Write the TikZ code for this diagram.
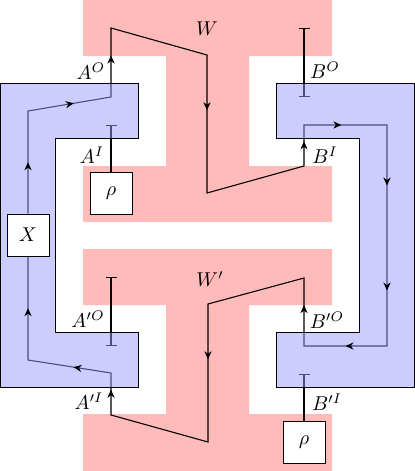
\documentclass[tikz,border=0pt]{standalone}
\usetikzlibrary{arrows.meta,decorations.markings}
\begin{document}
\begin{tikzpicture}[x=0.5pt,y=-0.5pt,
  pinkreg/.style={fill=red!27,draw=none},
  bluereg/.style={fill=blue!40,fill opacity=0.5,draw=black,draw opacity=1,line width=0.5pt},
  wire/.style={line width=0.55pt,black},
  marr/.style={postaction={decorate,decoration={markings,mark=at position #1 with {\arrow{Stealth[length=4pt,width=3.6pt]}}}}},
  boxnode/.style={draw,fill=white,line width=0.5pt,minimum width=21pt,minimum height=21pt,inner sep=0pt},
  teeline/.style={wire,{Bar[width=5.5pt]}-{Bar[width=5.5pt]}},
  teeend/.style={wire,-{Bar[width=5.5pt]}},
  lab/.style={inner sep=0pt}]
\useasboundingbox (0,0) rectangle (415,471);
% pink regions
\fill[pinkreg] (83,0) -- (332,0) -- (332,56) -- (249,56) -- (249,166) -- (332,166) -- (332,222) -- (83,222) -- (83,166) -- (166,166) -- (166,56) -- (83,56) -- cycle;
\fill[pinkreg] (83,249) -- (332,249) -- (332,305) -- (249,305) -- (249,414) -- (332,414) -- (332,471) -- (83,471) -- (83,414) -- (166,414) -- (166,305) -- (83,305) -- cycle;
% coordinates of the wire
\coordinate (c1) at (28,111);
\coordinate (c2) at (111,97);
\coordinate (c3) at (111,28);
\coordinate (c4) at (207,55);
\coordinate (c5) at (207,193);
\coordinate (c6) at (304,166);
\coordinate (c7) at (304,125);
\coordinate (c8) at (387,125);
\coordinate (c8b) at (387,235);
\coordinate (c9) at (387,346);
\coordinate (c10) at (304,346);
\coordinate (c11) at (304,278);
\coordinate (c12) at (208,304);
\coordinate (c13) at (208,442);
\coordinate (c14) at (111,415);
\coordinate (c15) at (111,373);
\coordinate (c16) at (28,360);
% boxes (positions)
\node[boxnode] (X) at (28,235) {$X$};
\node[boxnode] (rhoA) at (111,193.5) {$\rho$};
\node[boxnode] (rhoB) at (304,442.5) {$\rho$};
% wires (lines)
\draw[wire] (X.north) -- (c1) -- (c2) -- (c3) -- (c4) -- (c5) -- (c6) -- (c7) -- (c8) -- (c8b) -- (c9) -- (c10) -- (c11) -- (c12) -- (c13) -- (c14) -- (c15) -- (c16) -- (X.south);
% tees
\coordinate (tAI) at (111,125);
\coordinate (tBOa) at (304,28);
\coordinate (tBOb) at (304,97);
\coordinate (tAOa) at (111,277);
\coordinate (tAOb) at (111,346);
\coordinate (tBI) at (304,374);
\draw[teeend] (rhoA.north) -- (tAI);
\draw[teeline] (tBOa) -- (tBOb);
\draw[teeline] (tAOa) -- (tAOb);
\draw[teeend] (rhoB.north) -- (tBI);
% blue regions over the wires
\path[bluereg] (0,83) -- (138,83) -- (138,138) -- (55,138) -- (55,332) -- (138,332) -- (138,387) -- (0,387) -- cycle;
\path[bluereg] (276,83) -- (414.5,83) -- (414.5,387) -- (276,387) -- (276,332) -- (359,332) -- (359,138) -- (276,138) -- cycle;
% arrowheads on top
\path[marr=0.5] (X.north) -- (c1);
\path[marr=0.55] (c1) -- (c2);
\path[marr=0.6] (c2) -- (c3);
\path[marr=0.4] (c4) -- (c5);
\path[marr=0.6] (c6) -- (c7);
\path[marr=0.45] (c7) -- (c8);
\path[marr=0.55] (c8) -- (c8b);
\path[marr=0.5] (c8b) -- (c9);
\path[marr=0.5] (c9) -- (c10);
\path[marr=0.6] (c10) -- (c11);
\path[marr=0.4] (c12) -- (c13);
\path[marr=0.6] (c14) -- (c15);
\path[marr=0.45] (c15) -- (c16);
\path[marr=0.5] (c16) -- (X.south);
% boxes on top
\node[boxnode] at (X) {$X$};
\node[boxnode] at (rhoA) {$\rho$};
\node[boxnode] at (rhoB) {$\rho$};
% labels
\node[lab] (lW) at (207,29) {$W$};
\node[lab] (lW2) at (210,279) {$W'$};
\node[lab] (lAO) at (91,71) {$A^O$};
\node[lab] (lAI) at (92,155) {$A^I$};
\node[lab] (lBO) at (325,70) {$B^O$};
\node[lab] (lBI) at (325,155) {$B^I$};
\node[lab] (lAO2) at (88,319) {$A'^O$};
\node[lab] (lAI2) at (89,401) {$A'^I$};
\node[lab] (lBO2) at (327,320) {$B'^O$};
\node[lab] (lBI2) at (327,402) {$B'^I$};
\end{tikzpicture}
\end{document}
